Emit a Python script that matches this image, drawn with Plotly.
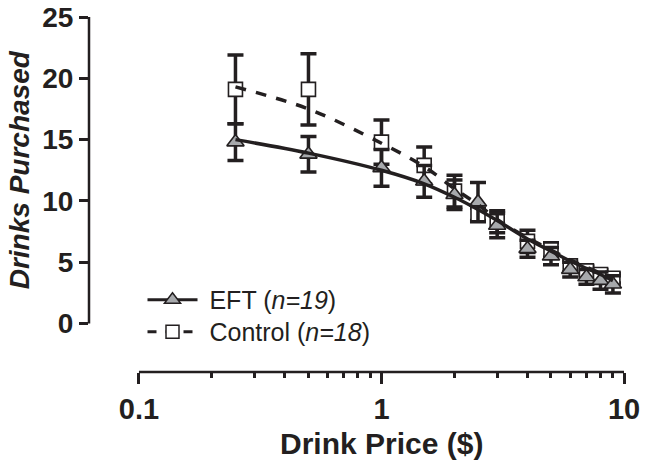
import numpy as np
import plotly.graph_objects as go

# ---- data ----
prices = [0.25, 0.5, 1, 1.5, 2, 2.5, 3, 4, 5, 6, 7, 8, 9]

eft_mean = [14.8, 13.8, 12.7, 11.6, 10.5, 9.9, 8.0, 6.1, 5.5, 4.4, 3.8, 3.5, 3.2]
eft_sem = [1.5, 1.45, 1.5, 1.3, 1.2, 1.6, 1.0, 0.7, 0.7, 0.6, 0.6, 0.7, 0.7]
ctrl_mean = [19.1, 19.1, 14.8, 12.9, 10.8, 8.9, 8.3, 6.7, 6.0, 4.7, 4.3, 4.0, 3.7]
ctrl_sem = [2.8, 2.9, 1.8, 1.5, 1.3, 0.5, 0.9, 0.9, 0.6, 0.5, 0.4, 0.4, 0.4]

eft_fit = [15.0, 13.9, 12.5, 11.4, 10.3, 9.3, 8.4, 6.9, 5.9, 5.1, 4.5, 4.0, 3.5]
ctrl_fit = [19.3, 17.5, 14.7, 12.8, 11.0, 9.7, 8.5, 7.0, 6.0, 5.2, 4.6, 4.1, 3.7]

x_major = [0.1, 1, 10]
x_major_text = ["0.1", "1", "10"]
x_minor = [0.2, 0.3, 0.4, 0.5, 0.6, 0.7, 0.8, 0.9, 2, 3, 4, 5, 6, 7, 8, 9]
y_ticks = [0, 5, 10, 15, 20, 25]

INK = "#231f20"
GRAY = "#a7a9ac"
FONT = "Liberation Sans, Arial, sans-serif"

XR = [-1.206, 1.0]
YR = [-3.95, 25]

fig = go.Figure()

# Control points
fig.add_trace(go.Scatter(
    x=prices, y=ctrl_mean, mode="markers", showlegend=False,
    marker=dict(symbol="square", size=14, color="white", line=dict(color=INK, width=1.6)),
    error_y=dict(type="data", array=ctrl_sem, color=INK, thickness=3.5, width=8),
))
# EFT points
fig.add_trace(go.Scatter(
    x=prices, y=eft_mean, mode="markers", showlegend=False,
    marker=dict(symbol="triangle-up", size=15, color=GRAY, line=dict(color=INK, width=1.6)),
    error_y=dict(type="data", array=eft_sem, color=INK, thickness=3.5, width=8),
))
# fitted curves
fig.add_trace(go.Scatter(
    x=prices, y=eft_fit, mode="lines", showlegend=False,
    line=dict(color=INK, width=3.5, shape="spline"),
))
fig.add_trace(go.Scatter(
    x=prices, y=ctrl_fit, mode="lines", showlegend=False,
    line=dict(color=INK, width=3.5, dash="dash", shape="spline"),
))

# legend entries (one legend each so rows can be spaced like the reference)
fig.add_trace(go.Scatter(
    x=[None], y=[None], mode="lines+markers", name="&nbsp;EFT (<i>n=19</i>)",
    legend="legend",
    line=dict(color=INK, width=3),
    marker=dict(symbol="triangle-up", size=14, color=GRAY, line=dict(color=INK, width=1.5)),
))
fig.add_trace(go.Scatter(
    x=[None], y=[None], mode="lines+markers", name="&nbsp;Control (<i>n=18</i>)",
    legend="legend2",
    line=dict(color=INK, width=3, dash="dash"),
    marker=dict(symbol="square", size=13, color="white", line=dict(color=INK, width=1.5)),
))

# detached axis lines (Prism style)
def xfrac(v):
    return (np.log10(v) - XR[0]) / (XR[1] - XR[0])

fig.add_shape(type="line", xref="paper", yref="y", x0=0, x1=0, y0=0, y1=25,
              line=dict(color=INK, width=2.5))
fig.add_shape(type="line", xref="paper", yref="paper", x0=xfrac(x_major[0]), x1=xfrac(x_major[-1]),
              y0=0, y1=0, line=dict(color=INK, width=2.5))

# axis titles as annotations
fig.add_annotation(text="<b><i>Drinks Purchased</i></b>", xref="paper", yref="y",
                   x=0, y=12.5, xshift=-70, xanchor="center", yanchor="middle",
                   textangle=-90, showarrow=False,
                   font=dict(family=FONT, size=28, color=INK))
fig.add_annotation(text="<b>Drink Price ($)</b>", xref="paper", yref="paper",
                   x=xfrac(1), y=0, yshift=-71, xanchor="center", yanchor="middle",
                   showarrow=False,
                   font=dict(family=FONT, size=30, color=INK))

leg_common = dict(
    x=0.1, xanchor="left", yanchor="middle",
    font=dict(family=FONT, size=25, color=INK),
    bgcolor="rgba(0,0,0,0)", itemwidth=50,
)

fig.update_layout(
    width=645, height=476,
    margin=dict(l=89, r=21, t=17, b=104, autoexpand=False),
    paper_bgcolor="white", plot_bgcolor="white",
    font=dict(family=FONT, color=INK),
    hovermode=False,
    xaxis=dict(
        type="log", range=XR, automargin=False, ticklabeloverflow="allow",
        showgrid=False, zeroline=False, showline=False,
        tickmode="array", tickvals=x_major, ticktext=x_major_text,
        ticks="outside", ticklen=11, tickwidth=2.5, tickcolor=INK,
        tickfont=dict(family=FONT, size=29, color=INK, weight="bold"),
        minor=dict(tickmode="array", tickvals=x_minor, ticks="outside",
                   ticklen=5, tickwidth=2.5, tickcolor=INK, showgrid=False),
    ),
    yaxis=dict(
        range=YR, automargin=False, ticklabeloverflow="allow",
        showgrid=False, zeroline=False, showline=False,
        tickmode="array", tickvals=y_ticks,
        ticks="outside", ticklen=9, tickwidth=2.5, tickcolor=INK,
        tickfont=dict(family=FONT, size=28, color=INK, weight="bold"),
    ),
    legend=dict(y=0.203, **leg_common),
    legend2=dict(y=0.113, **leg_common),
)

# remove the default page margin so the 645x476 figure fills the window exactly
fig.write_html(
    "out.html",
    config={"displayModeBar": False},
    post_script="document.body.style.margin='0';document.body.style.overflow='hidden';",
)
